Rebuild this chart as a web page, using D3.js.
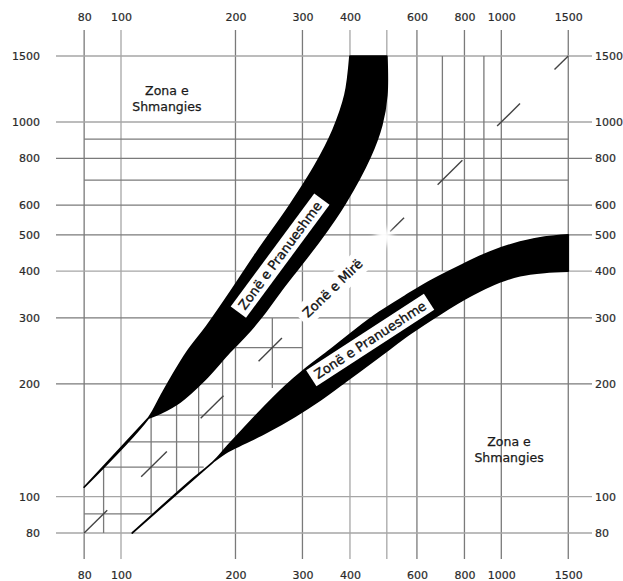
<!DOCTYPE html>
<html>
<head>
<meta charset="utf-8">
<script src="https://cdn.jsdelivr.net/npm/d3@7"></script>
<style>
  html, body { margin: 0; padding: 0; background: #fff; }
  svg { display: block; }
  text { font-family: "DejaVu Sans", Verdana, sans-serif; }
</style>
</head>
<body>
<svg id="chart" width="623" height="581"></svg>
<script>
// ---- data ----------------------------------------------------------------
const xTickValues = [80, 100, 200, 300, 400, 600, 800, 1000, 1500];
const yTickValues = [80, 100, 200, 300, 400, 500, 600, 800, 1000, 1500];
const xGridValues = [80, 100, 200, 300, 400, 500, 600, 800, 1000, 1500];
const yGridValues = [80, 100, 200, 300, 400, 500, 600, 800, 1000, 1500];
const xGridLight = [100, 400, 500];
const yGridLight = [1500, 1000, 400, 100, 80];

// partial grid segments: [value, from, to]
const vSegments = [[90, 80, 120], [120, 90, 165], [140, 103, 190], [160, 115, 200],
                   [185, 130, 250], [250, 195, 300], [700, 400, 1500], [900, 420, 1500]];
const hSegments = [[90, 80, 121], [120, 90, 165], [140, 105, 200], [165, 120, 228],
                   [250, 185, 300], [700, 80, 1500], [900, 80, 1500]];

// short marks along the y = x diagonal: [from, to]
const diagonalMarks = [[80, 92], [113, 132], [162, 186], [230, 265],
                       [510, 555], [680, 790], [975, 1120], [1380, 1500]];

// upper-left band: outer edge bottom -> top, inner edge top -> tip
const upperBandOuter = [[80, 106], [118, 162], [127, 185], [136, 209], [149, 243], [168, 285],
                        [190, 341], [228, 450], [278, 600], [324, 767], [361, 952], [388, 1180],
                        [400, 1500]];
const upperBandInner = [[500, 1500], [500, 1180], [485, 982], [452, 807], [388, 605], [334, 484],
                        [296, 413], [262, 352], [235, 303], [212, 268], [193, 243], [166, 205],
                        [143, 179], [127, 167], [118, 162]];

// lower-right band: upper edge tip -> right end, lower edge right end -> tip
const lowerBandUpper = [[107, 80], [152, 110], [175, 124], [190, 136], [228, 166], [270, 197],
                        [303, 218], [354, 246], [412, 278], [479, 311], [558, 343], [649, 376],
                        [778, 413], [934, 450], [1120, 478], [1300, 493], [1500, 500]];
const lowerBandLower = [[1500, 400], [1300, 397], [1120, 389], [990, 374], [828, 343], [689, 307],
                        [575, 272], [479, 237], [400, 207], [334, 181], [287, 164], [243, 149],
                        [212, 139], [191, 132], [175, 124]];

// text labels: [text, x, y, angle]
const bandLabels = [["Zonë e Pranueshme", 262, 440, -53.5], ["Zonë e Pranueshme", 452, 262, -33]];
const goodZoneLabel = ["Zonë e Mirë", 360, 360, -44];
const avoidLabels = [[["Zona e", "Shmangies"], 132, 1157], [["Zona e", "Shmangies"], 1048, 134]];
const clearSpot = [500, 500];

// ---- layout --------------------------------------------------------------
const frame = { left: 56, right: 592, top: 30, bottom: 559 };
const svg = d3.select("#chart");

const x = d3.scaleLog().domain([100, 1000]).range([121, 501.3]);
const y = d3.scaleLog().domain([100, 1000]).range([496.7, 122]);

const gridDark = "#7a7a7a", gridLight = "#a6a6a6";

// ---- grid ----------------------------------------------------------------
const grid = svg.append("g").attr("stroke-width", 1.3).attr("fill", "none");

grid.selectAll(".vg").data(xGridValues).join("line")
  .attr("stroke", d => xGridLight.includes(d) ? gridLight : gridDark)
  .attr("x1", d => x(d)).attr("x2", d => x(d))
  .attr("y1", frame.top).attr("y2", frame.bottom);

grid.selectAll(".hg").data(yGridValues).join("line")
  .attr("stroke", d => yGridLight.includes(d) ? gridLight : gridDark)
  .attr("y1", d => y(d)).attr("y2", d => y(d))
  .attr("x1", frame.left).attr("x2", frame.right);

grid.selectAll(".vs").data(vSegments).join("line")
  .attr("stroke", gridDark)
  .attr("x1", d => x(d[0])).attr("x2", d => x(d[0]))
  .attr("y1", d => y(d[1])).attr("y2", d => y(d[2]));

grid.selectAll(".hs").data(hSegments).join("line")
  .attr("stroke", gridDark)
  .attr("y1", d => y(d[0])).attr("y2", d => y(d[0]))
  .attr("x1", d => x(d[1])).attr("x2", d => x(d[2]));

// diagonal marks
svg.append("g").attr("stroke", "#444").attr("stroke-width", 1.4)
  .selectAll("line").data(diagonalMarks).join("line")
  .attr("x1", d => x(d[0])).attr("y1", d => y(d[0]))
  .attr("x2", d => x(d[1])).attr("y2", d => y(d[1]));

// soft white spot on the diagonal
const defs = svg.append("defs");
defs.append("filter").attr("id", "soft").attr("x", "-1").attr("y", "-1").attr("width", "3").attr("height", "3")
  .append("feGaussianBlur").attr("stdDeviation", 3);
svg.append("circle").attr("cx", x(clearSpot[0]) - 3).attr("cy", y(clearSpot[1]) + 2).attr("r", 9)
  .attr("fill", "#fff").attr("filter", "url(#soft)");

// ---- bands ---------------------------------------------------------------
const edge = d3.line().x(d => x(d[0])).y(d => y(d[1])).curve(d3.curveCatmullRom.alpha(0.5));
function bandPath(a, b) {
  return edge(a) + edge(b).replace(/^M/, "L") + "Z";
}
const bands = svg.append("g").attr("fill", "#000").attr("stroke", "#000")
  .attr("stroke-width", 1.7).attr("stroke-linejoin", "round");
bands.append("path").attr("d", bandPath(upperBandOuter, upperBandInner));
bands.append("path").attr("d", bandPath(lowerBandUpper, lowerBandLower));

// ---- labels --------------------------------------------------------------
function boxedLabel(txt, cx, cy, angle, padX, padY) {
  const g = svg.append("g").attr("transform", `translate(${x(cx)},${y(cy)}) rotate(${angle})`);
  const r = g.append("rect").attr("fill", "#fff");
  const t = g.append("text").attr("text-anchor", "middle").attr("dy", "0.35em")
    .attr("font-size", 13).attr("fill", "#111").attr("stroke", "#111").attr("stroke-width", 0.35)
    .text(txt);
  const bb = t.node().getBBox();
  r.attr("x", bb.x - padX).attr("y", bb.y - padY)
   .attr("width", bb.width + 2 * padX).attr("height", bb.height + 2 * padY);
  return g;
}
bandLabels.forEach(d => boxedLabel(d[0], d[1], d[2], d[3], 5, 2));
boxedLabel(goodZoneLabel[0], goodZoneLabel[1], goodZoneLabel[2], goodZoneLabel[3], 6, 4);

avoidLabels.forEach(([lines, cx, cy]) => {
  const t = svg.append("text").attr("x", x(cx)).attr("y", y(cy))
    .attr("text-anchor", "middle").attr("font-size", 12.5).attr("fill", "#1a1a1a")
    .attr("stroke", "#1a1a1a").attr("stroke-width", 0.25);
  lines.forEach((ln, i) => t.append("tspan").attr("x", x(cx))
    .attr("dy", i === 0 ? "-0.25em" : "1.25em").text(ln));
});

// ---- axes ----------------------------------------------------------------
function styleAxis(g) {
  g.select(".domain").remove();
  g.selectAll("line").remove();
  g.selectAll("text").attr("font-size", 11).attr("fill", "#2a2a2a")
    .attr("stroke", "#2a2a2a").attr("stroke-width", 0.2)
    .style("font-family", "'DejaVu Sans', Verdana, sans-serif");
}
const fmt = d3.format("d");
svg.append("g").attr("transform", `translate(0,${frame.top})`)
  .call(d3.axisTop(x).tickValues(xTickValues).tickFormat(fmt).tickSize(0).tickPadding(9)).call(styleAxis);
svg.append("g").attr("transform", `translate(0,${frame.bottom})`)
  .call(d3.axisBottom(x).tickValues(xTickValues).tickFormat(fmt).tickSize(0).tickPadding(12)).call(styleAxis);
svg.append("g").attr("transform", `translate(${frame.left},0)`)
  .call(d3.axisLeft(y).tickValues(yTickValues).tickFormat(fmt).tickSize(0).tickPadding(16)).call(styleAxis);
svg.append("g").attr("transform", `translate(${frame.right},0)`)
  .call(d3.axisRight(y).tickValues(yTickValues).tickFormat(fmt).tickSize(0).tickPadding(3)).call(styleAxis);
</script>
</body>
</html>
